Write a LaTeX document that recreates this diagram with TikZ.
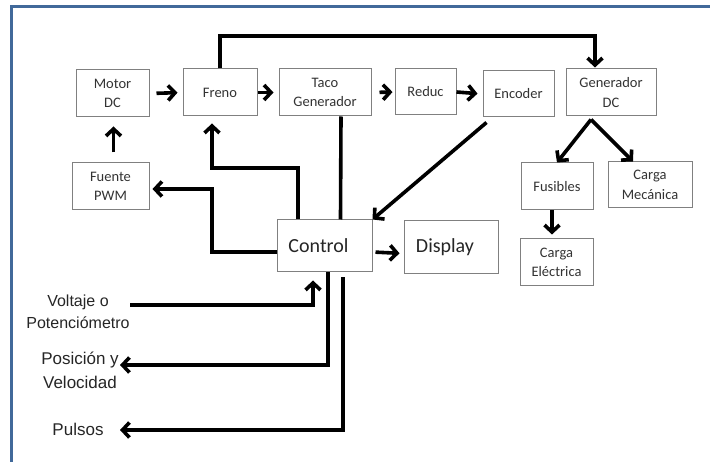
\documentclass[tikz,border=0pt]{standalone}
\usepackage{fontspec}
\setmainfont{Carlito}
\newfontfamily\arialfont{Liberation Sans}
\usetikzlibrary{arrows.meta,calc,positioning}
\definecolor{framecol}{HTML}{41699A}
\definecolor{boxline}{HTML}{808080}
\definecolor{boxtext}{HTML}{333333}
\begin{document}
\begin{tikzpicture}[x=1pt, y=-1pt,
		block/.style={draw=boxline, line width=1pt, align=center, text=boxtext,
			inner sep=0pt, font=\fontsize{14.5}{19.5}\selectfont},
		bigblock/.style={block, font=\fontsize{20}{24}\selectfont, text=black!85},
		flow/.style={line width=3.6pt, -{Straight Barb[length=7pt,width=15pt]}},
		wire/.style={line width=3.6pt},
		side/.style={align=center, text=black!85, font=\arialfont\fontsize{16}{22}\selectfont}]
		\useasboundingbox (0,0) rectangle (710,462);
		\fill [white] (0,0) rectangle (710,462);
		% frame
		\draw [framecol, line width=3pt] (11.5,462) -- (11.5,6.5) -- (710,6.5);
		% blocks
		\node [block, minimum width=73pt, minimum height=47pt] (motor) at (112.5,93.5) {Motor\\DC};
		\node [block, minimum width=74pt, minimum height=47pt] (freno) at (220,92.5) {Freno};
		\node [block, minimum width=92pt, minimum height=47pt] (taco) at (325,92.5) {Taco\\Generador};
		\node [block, minimum width=61pt, minimum height=46pt] (reduc) at (425.5,92) {Reduc};
		\node [block, minimum width=71pt, minimum height=46pt] (encoder) at (518.5,94) {Encoder};
		\node [block, minimum width=90pt, minimum height=47pt] (gendc) at (611,92.5) {Generador\\DC};
		\node [block, minimum width=77pt, minimum height=47pt] (fuente) at (110.5,186.5) {Fuente\\PWM};
		\node [block, minimum width=72pt, minimum height=47pt] (fusibles) at (557,186.5) {Fusibles};
		\node [block, minimum width=84pt, minimum height=46pt] (cargamec) at (650,185) {Carga\\Mecánica};
		\node [bigblock, minimum width=95pt, minimum height=52pt] (control) at (324.5,246) {\hspace*{-12pt}Control};
		\node [bigblock, minimum width=94pt, minimum height=53pt] (display) at (451,247.5) {\hspace*{-12pt}Display};
		\node [block, minimum width=73pt, minimum height=47pt] (cargaele) at (556.5,262.5) {Carga\\Eléctrica};
		% outside signals
		\node [side] (voltaje) at (78,312) {Voltaje o\\Potenciómetro};
		\node [side, font=\arialfont\fontsize{17}{24}\selectfont] (posvel) at (80,370) {Posición y\\Velocidad};
		\node [side, font=\arialfont\fontsize{17}{24}\selectfont] (pulsos) at (78,429) {Pulsos};
		\coordinate (top) at (595,36);
		\coordinate (jf) at (212,189);
		\coordinate (jb) at (212,168);
		\coordinate (gsplit) at ([xshift=-20pt,yshift=-3pt]gendc.south);
		\coordinate (vin) at (130,305);
		\coordinate (pvout) at (120,365);
		\coordinate (pout) at (120,430);
		% main chain
		\draw [flow, shorten <=7pt, shorten >=5pt] (motor.east) -- (freno.west);
		\draw [flow, shorten >=5pt] (freno.east) -- (taco.west);
		\draw [flow, shorten <=8pt, shorten >=2pt] (taco.east) -- (reduc.west);
		\draw [flow, shorten >=5pt] (reduc.east) -- (encoder.west);
		\draw [flow, shorten >=1pt] (freno.north) |- (top) -- (top |- gendc.north);
		\draw [flow, shorten <=10pt, shorten >=9pt] ([xshift=3pt]fuente.north) -- ([xshift=1pt]motor.south);
		% control loop
		\draw [flow] ([yshift=-6pt]control.west) -| (jf) -- ([xshift=3pt]jf -| fuente.east);
		\draw [flow, shorten >=7pt] ([xshift=-26.5pt]control.north) |- (jb) -- (jb |- freno.south);
		\draw [wire] ([xshift=16pt]taco.south) -- ([xshift=16pt]control.north);
		\draw [flow] ([shift={(4pt,-5pt)}]encoder.south west) -- (control.north east);
		\draw [flow, shorten <=3pt, shorten >=4pt] ([yshift=-6pt]control.east) -- ([yshift=-6pt]display.west);
		% loads
		\draw [flow] (gsplit) -- (fusibles.north);
		\draw [flow] (gsplit) -- ([xshift=-17pt]cargamec.north);
		\draw [flow, shorten >=4pt] ([xshift=-5pt]fusibles.south) -- ([xshift=-4.5pt]cargaele.north);
		% signals
		\draw [flow, shorten >=8pt] (vin) -| ([xshift=-11.5pt]control.south);
		\draw [flow] ([xshift=3.5pt]control.south) |- (pvout);
		\draw [flow, shorten <=5pt] ([xshift=18.5pt]control.south) |- (pout);
\end{tikzpicture}
\end{document}
